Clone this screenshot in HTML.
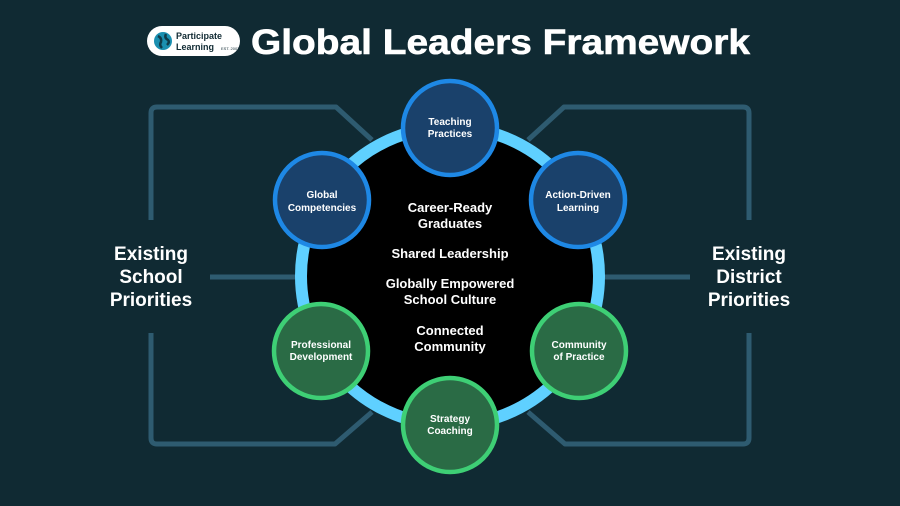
<!DOCTYPE html>
<html><head><style>
html,body{margin:0;padding:0;background:#102a33;}
svg{display:block;font-family:"Liberation Sans",sans-serif;font-weight:bold;}
</style></head><body>
<svg width="900" height="506" viewBox="0 0 900 506">
<rect width="900" height="506" fill="#102a33"/>
<g fill="none" stroke="#2e5b70" stroke-width="5" stroke-linejoin="round">
<path d="M151 220 V113 Q151 107 157 107 H336 L372 140"/>
<path d="M151 333 V438 Q151 444 157 444 H335 L372 412"/>
<path d="M749 220 V113 Q749 107 743 107 H564 L528 140"/>
<path d="M749 333 V438 Q749 444 743 444 H565 L528 412"/>
<path d="M210 277 H300"/>
<path d="M600 277 H690"/>
</g>
<circle cx="450" cy="276" r="149" fill="#000" stroke="#5fd0ff" stroke-width="12"/>
<g stroke-width="4.5">
<circle cx="450" cy="128" r="47" fill="#1a416b" stroke="#1e88e5"/>
<circle cx="322" cy="200" r="47" fill="#1a416b" stroke="#1e88e5"/>
<circle cx="578" cy="200" r="47" fill="#1a416b" stroke="#1e88e5"/>
<circle cx="321" cy="351" r="47" fill="#2a6b45" stroke="#3ecf75"/>
<circle cx="579" cy="351" r="47" fill="#2a6b45" stroke="#3ecf75"/>
<circle cx="450" cy="425" r="47" fill="#2a6b45" stroke="#3ecf75"/>
</g>
<g fill="#fff" font-size="10" text-anchor="middle">
<text x="450" y="125">Teaching</text><text x="450" y="137">Practices</text>
<text x="322" y="198">Global</text><text x="322" y="211">Competencies</text>
<text x="578" y="198">Action-Driven</text><text x="578" y="211">Learning</text>
<text x="321" y="348">Professional</text><text x="321" y="360">Development</text>
<text x="579" y="348">Community</text><text x="579" y="360">of Practice</text>
<text x="450" y="422">Strategy</text><text x="450" y="434">Coaching</text>
</g>
<g fill="#fff" font-size="13" text-anchor="middle">
<text x="450" y="212">Career-Ready</text><text x="450" y="228">Graduates</text>
<text x="450" y="258">Shared Leadership</text>
<text x="450" y="288">Globally Empowered</text><text x="450" y="304">School Culture</text>
<text x="450" y="335">Connected</text><text x="450" y="351">Community</text>
</g>
<g fill="#fff" font-size="19" text-anchor="middle">
<text x="151" y="260">Existing</text><text x="151" y="283">School</text><text x="151" y="306">Priorities</text>
<text x="749" y="260">Existing</text><text x="749" y="283">District</text><text x="749" y="306">Priorities</text>
</g>
<rect x="147" y="26" width="93" height="30" rx="15" fill="#fff"/>
<circle cx="163" cy="41" r="9" fill="#1a8fb0"/>
<path d="M158 36 q4 2 3 6 q-2 3 1 6 M166 34 q-2 4 2 6 q2 2 -1 5" stroke="#0f3b4a" stroke-width="2.5" fill="none"/>
<text x="176" y="39" font-size="9" fill="#102a33">Participate</text>
<text x="176" y="50" font-size="9" fill="#102a33">Learning</text>
<text x="221" y="50" font-size="4" fill="#102a33" font-weight="normal">EST. 2007</text>
<text x="251" y="54" font-size="35" fill="#fff" stroke="#fff" stroke-width="0.6" textLength="499" lengthAdjust="spacingAndGlyphs">Global Leaders Framework</text>
</svg>
</body></html>
